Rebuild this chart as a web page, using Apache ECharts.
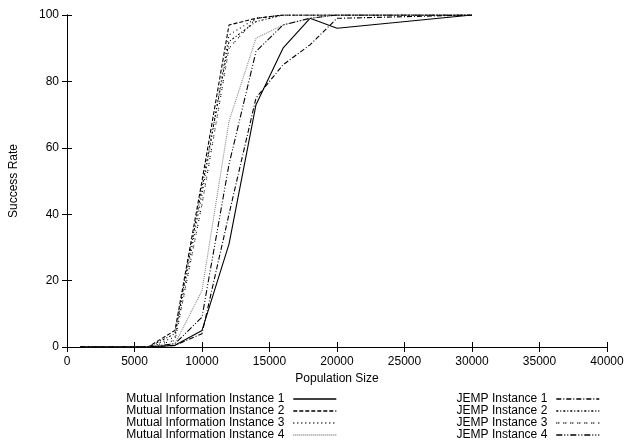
<!DOCTYPE html>
<html>
<head>
<meta charset="utf-8">
<script src="https://cdn.jsdelivr.net/npm/echarts@6/dist/echarts.min.js"></script>
<style>
  html, body { margin: 0; padding: 0; background: #fff; }
  #chart { width: 634px; height: 444px; }
</style>
</head>
<body>
<div id="chart"></div>
<script>
// Population sizes sampled in the experiment
var popSizes = [1000, 2000, 4000, 6000, 8000, 10000, 12000, 14000, 16000, 18000, 20000, 30000];

// Success rate (%) per population size
var mi1   = [0, 0, 0, 0, 0.5, 5, 31, 73, 90, 99, 96, 100];
var mi2   = [0, 0, 0, 0, 5, 50, 97, 99, 100, 100, 100, 100];
var mi3   = [0, 0, 0, 0, 3, 46, 94, 99, 100, 100, 100, 100];
var mi4   = [0, 0, 0, 0, 1, 17, 68, 93, 97, 99, 100, 100];
var jemp1 = [0, 0, 0, 0, 0.5, 4, 40, 75, 85, 91, 99, 100];
var jemp2 = [0, 0, 0, 0, 4, 48, 92, 98, 100, 100, 100, 100];
var jemp3 = [0, 0, 0, 0, 2, 43, 90, 99, 100, 100, 100, 100];
var jemp4 = [0, 0, 0, 0, 1, 9, 55, 89, 97, 99, 100, 100];

var seriesNames = [
  'Mutual Information Instance 1',
  'Mutual Information Instance 2',
  'Mutual Information Instance 3',
  'Mutual Information Instance 4',
  'JEMP Instance 1',
  'JEMP Instance 2',
  'JEMP Instance 3',
  'JEMP Instance 4'
];
var seriesValues = [mi1, mi2, mi3, mi4, jemp1, jemp2, jemp3, jemp4];

var xTicks = { min: 0, max: 40000, interval: 5000 };
var yTicks = { min: 0, max: 100, interval: 20 };

var FONT = '"Liberation Sans", Arial, Helvetica, sans-serif';

// dash patterns for each curve
var styles = [
  { color: '#000', type: 'solid' },
  { color: '#000', type: [4, 2] },
  { color: '#000', type: [1, 3] },
  { color: '#888', type: [1, 1] },
  { color: '#000', type: [5, 2, 1, 2] },
  { color: '#000', type: [2, 2, 1, 2] },
  { color: '#000', type: [1, 1, 1, 4] },
  { color: '#000', type: [6, 2, 1, 2, 1, 2] }
];

function pairs(xs, ys) {
  return xs.map(function (x, i) { return [x, ys[i]]; });
}

var series = seriesNames.map(function (name, i) {
  return {
    name: name,
    type: 'line',
    xAxisIndex: 0,
    yAxisIndex: 0,
    symbol: 'none',
    showSymbol: false,
    silent: true,
    color: styles[i].color,
    lineStyle: { color: styles[i].color, width: 1.1, type: styles[i].type },
    data: pairs(popSizes, seriesValues[i])
  };
});

var axisLine = { show: true, lineStyle: { color: '#000', width: 1 } };
var tick = { show: true, inside: true, length: 5, lineStyle: { color: '#000', width: 1 } };
var label = { color: '#000', fontSize: 12, fontFamily: FONT };

var legendCommon = {
  orient: 'vertical',
  top: 393,
  height: 60,
  align: 'right',
  itemWidth: 43,
  itemHeight: 12,
  itemGap: 0,
  padding: 0,
  selectedMode: false,
  itemStyle: { opacity: 0 },
  lineStyle: { width: 1.4 },
  textStyle: { color: '#000', fontSize: 12, lineHeight: 12, fontFamily: FONT, padding: [0, 4, 0, 0] }
};

var option = {
  animation: false,
  backgroundColor: '#fff',
  textStyle: { fontFamily: FONT },
  grid: { left: 67, right: 27, top: 15, bottom: 97, containLabel: false },
  xAxis: [
    Object.assign({
      type: 'value', position: 'bottom',
      axisLine: axisLine, axisTick: tick, splitLine: { show: false },
      axisLabel: Object.assign({ margin: 9, formatter: function (v) { return String(v); } }, label),
      name: 'Population Size', nameLocation: 'middle', nameGap: 26,
      nameTextStyle: { color: '#000', fontSize: 12, fontFamily: FONT }
    }, xTicks),
    Object.assign({
      type: 'value', position: 'top',
      axisLine: axisLine, axisTick: tick, splitLine: { show: false },
      axisLabel: { show: false }
    }, xTicks)
  ],
  yAxis: [
    Object.assign({
      type: 'value', position: 'left',
      axisLine: axisLine, axisTick: tick, splitLine: { show: false },
      axisLabel: Object.assign({ margin: 8 }, label),
      name: 'Success Rate', nameLocation: 'middle', nameGap: 47,
      nameTextStyle: { color: '#000', fontSize: 12, fontFamily: FONT }
    }, yTicks),
    Object.assign({
      type: 'value', position: 'right',
      axisLine: axisLine, axisTick: tick, splitLine: { show: false },
      axisLabel: { show: false }
    }, yTicks)
  ],
  legend: [
    Object.assign({ right: 297, data: seriesNames.slice(0, 4) }, legendCommon),
    Object.assign({ right: 34, data: seriesNames.slice(4) }, legendCommon)
  ],
  series: series
};

var chart = echarts.init(document.getElementById('chart'), null, { renderer: 'canvas' });
chart.setOption(option);
</script>
</body>
</html>
